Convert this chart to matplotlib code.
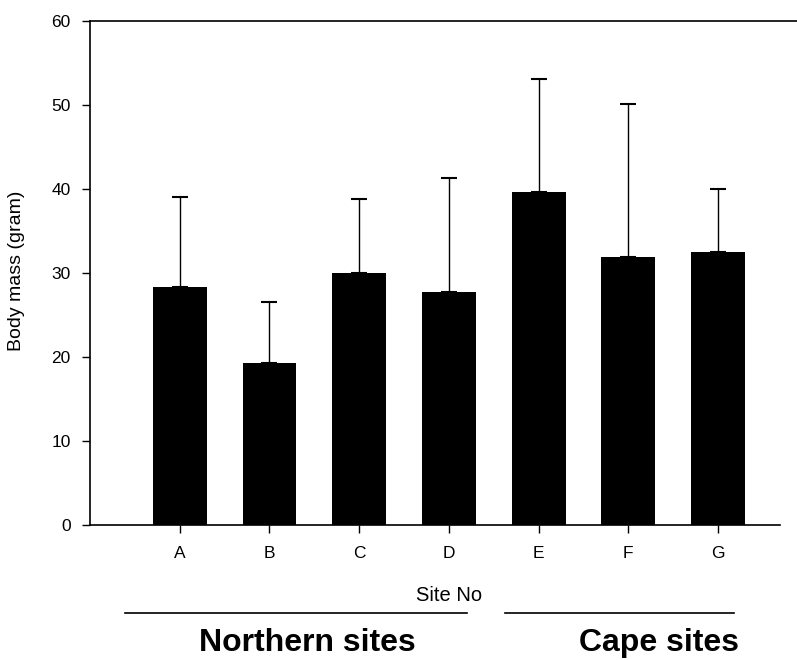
import matplotlib.pyplot as plt
import numpy as np

plt.rcParams['font.family'] = ['Liberation Sans', 'DejaVu Sans']

sites = ['A', 'B', 'C', 'D', 'E', 'F', 'G']
mass = [28.3, 19.3, 30.0, 27.7, 39.6, 31.9, 32.5]
sd = [10.7, 7.2, 8.8, 13.6, 13.5, 18.2, 7.5]
groups = ['Northern sites', 'Cape sites']

fig = plt.figure(figsize=(7.97, 6.6), dpi=100)
ax = fig.add_axes([90/797, 1 - 525/660, 707/797, 504/660])

x = np.arange(len(sites))
ax.bar(x, mass, width=0.6, color='black', zorder=2)
ax.errorbar(x, mass, yerr=[np.zeros(len(sd)), sd], fmt='none',
            ecolor='black', elinewidth=1, capsize=6, capthick=1.5, zorder=1)

ax.set_xlim(-1, 6.88)
ax.set_ylim(0, 60)
ax.set_yticks(range(0, 61, 10))
ax.set_xticks(x)
ax.set_xticklabels(sites)
ax.tick_params(axis='both', direction='out', length=6, width=1, labelsize=12.5)
ax.tick_params(axis='y', pad=8)
ax.tick_params(axis='x', pad=9)

ax.spines['right'].set_visible(False)
ax.spines['bottom'].set_bounds(-1, 6.69)
for s in ['left', 'bottom', 'top']:
    ax.spines[s].set_linewidth(1.2)

fig.text(17/797, 1 - 271/660, 'Body mass (gram)', fontsize=14, rotation=90,
         ha='center', va='center')

fig.text(449/797, 1 - 601/660, 'Site No', fontsize=14.5, ha='center', va='baseline')

# group brackets under the axis
fig.add_artist(plt.Line2D([125/797, 467/797], [1 - 613/660] * 2, color='black', lw=1.2))
fig.add_artist(plt.Line2D([505/797, 734/797], [1 - 613/660] * 2, color='black', lw=1.2))
fig.text(307/797, 1 - 651/660, groups[0], fontsize=23, fontweight='bold', ha='center', va='baseline')
fig.text(659/797, 1 - 651/660, groups[1], fontsize=23, fontweight='bold', ha='center', va='baseline')

fig.savefig('out.png', dpi=100)
